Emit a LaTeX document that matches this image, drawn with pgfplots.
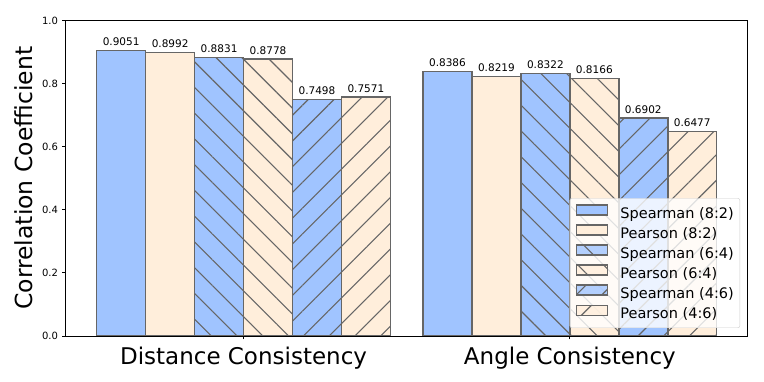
\documentclass[border=0pt]{standalone}
\usepackage{pgfplots}
\pgfplotsset{compat=1.18}
\usepackage{fontspec}
\setmainfont{DejaVu Sans}
\usetikzlibrary{patterns.meta}
\definecolor{spblue}{HTML}{A0C4FF}
\definecolor{pcream}{HTML}{FFEEDB}
\definecolor{edgegray}{HTML}{666666}
\definecolor{leggray}{HTML}{CCCCCC}
\begin{document}
\begin{tikzpicture}[x=1pt,y=1pt]
\useasboundingbox (0,0) rectangle (764,382);
\begin{axis}[
  at={(65.7pt,46pt)}, anchor=south west,
  scale only axis, width=682pt, height=315.5pt,
  xmin=-0.545, xmax=1.545, ymin=0, ymax=1,
  ybar, bar width=0.15,
  xtick={0,1},
  xticklabels={Distance Consistency, Angle Consistency},
  ytick={0,0.2,0.4,0.6,0.8,1.0},
  tick pos=left, tick align=outside, major tick length=3.5pt,
  tick style={black, line width=0.8pt},
  axis line style={black, line width=0.8pt},
  xticklabel style={font=\fontsize{23}{27}\selectfont, anchor=base, inner sep=0pt, yshift=-25pt},
  yticklabel style={font=\fontsize{10}{12}\selectfont, inner sep=0pt, xshift=-4pt,
    /pgf/number format/fixed, /pgf/number format/fixed zerofill,
    /pgf/number format/precision=1, /pgf/number format/assume math mode=true},
  ylabel={Correlation Coefficient},
  ylabel style={font=\fontsize{23.5}{27}\selectfont, at={(rel axis cs:-0.048,0.5)}, anchor=south, inner sep=0pt},
  nodes near coords={\pgfmathprintnumber[fixed,fixed zerofill,precision=4,assume math mode=true]{\pgfplotspointmeta}},
  nodes near coords style={font=\fontsize{10.5}{12}\selectfont, anchor=base, yshift=5pt, inner sep=0pt, text=black},
  legend cell align=left,
  legend image code/.code={\draw[#1, sharp corners, fill opacity=1, draw opacity=1] (0pt,-0.5pt) rectangle (31pt,9.5pt);},
  legend style={at={(rel axis cs:1,0)}, anchor=south east, xshift=-7.7pt, yshift=8pt,
    fill=white, fill opacity=0.8, draw opacity=1, text opacity=1, draw=leggray,
    rounded corners=2pt, font=\fontsize{14.5}{17}\selectfont,
    inner xsep=6pt, inner ysep=6pt, row sep=2.8pt,
    nodes={inner sep=0pt, text height=11pt, text depth=3pt},
    /tikz/every odd column/.append style={column sep=12pt}},
  sp/.style={bar shift=0pt, fill=spblue, draw=edgegray, line width=1.5pt},
  pe/.style={bar shift=0pt, fill=pcream, draw=edgegray, line width=1.5pt},
  hb/.style={bar shift=0pt, preaction={fill=#1}, pattern={Lines[angle=-45, distance=18.2pt, line width=1.1pt]}, pattern color=edgegray, draw=edgegray, line width=1.5pt},
  hf/.style={bar shift=0pt, preaction={fill=#1}, pattern={Lines[angle=45, distance=18.2pt, line width=1.1pt]}, pattern color=edgegray, draw=edgegray, line width=1.5pt},
]
\addplot[sp] coordinates {(-0.375,0.9051) (0.625,0.8386)};
\addlegendentry{Spearman (8:2)}
\addplot[pe] coordinates {(-0.225,0.8992) (0.775,0.8219)};
\addlegendentry{Pearson (8:2)}
\addplot[hb=spblue] coordinates {(-0.075,0.8831) (0.925,0.8322)};
\addlegendentry{Spearman (6:4)}
\addplot[hb=pcream] coordinates {(0.075,0.8778) (1.075,0.8166)};
\addlegendentry{Pearson (6:4)}
\addplot[hf=spblue] coordinates {(0.225,0.7498) (1.225,0.6902)};
\addlegendentry{Spearman (4:6)}
\addplot[hf=pcream] coordinates {(0.375,0.7571) (1.375,0.6477)};
\addlegendentry{Pearson (4:6)}
\end{axis}
\end{tikzpicture}
\end{document}
